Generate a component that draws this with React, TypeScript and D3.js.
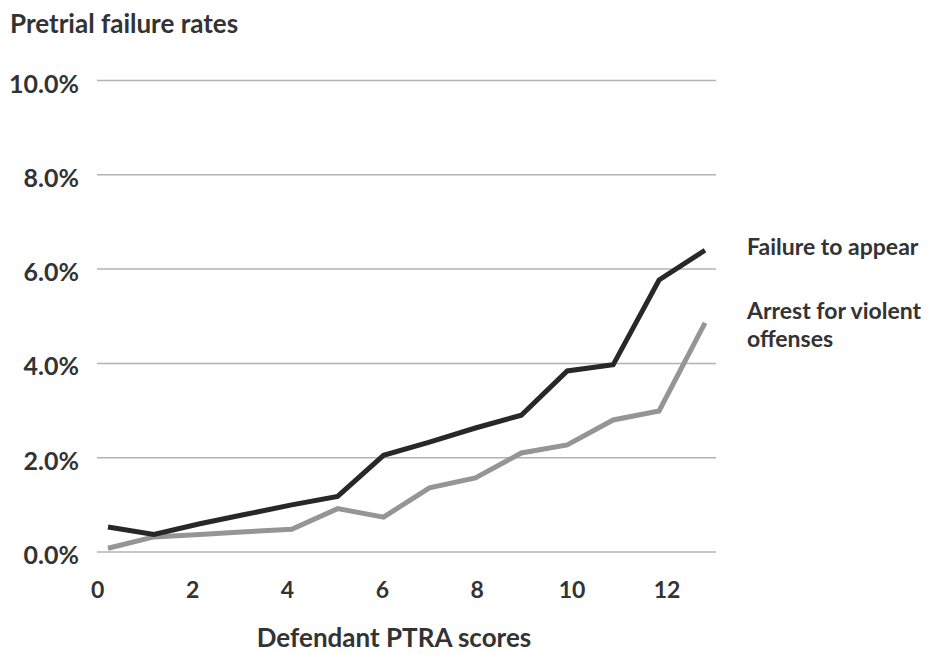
import * as d3 from "d3";

// PTRA score categories (one point per score)
const scores = [0, 1, 2, 3, 4, 5, 6, 7, 8, 9, 10, 11, 12, 13];
const failureToAppear = [0.53, 0.37, 0.6, 0.8, 1.0, 1.18, 2.05, 2.33, 2.63, 2.9, 3.84, 3.97, 5.77, 6.4];
const violentArrest = [0.08, 0.32, 0.37, 0.43, 0.48, 0.92, 0.74, 1.36, 1.57, 2.1, 2.27, 2.8, 2.99, 4.86];
const xTickValues = [0, 2, 4, 6, 8, 10, 12];
const yTickValues = [0, 2, 4, 6, 8, 10];

const W = 936;
const H = 654;
const FONT = "Lato, 'Open Sans', sans-serif";
const TEXT = "#333333";
const GRID = "#b3b3b3";
const DARK = "#282828";
const GRAY = "#959595";

export default function App() {
  const y = d3.scaleLinear().domain([0, 10]).range([552, 80.5]);
  const xData = d3.scalePoint<number>().domain(scores).range([108, 705]);
  const xTick = d3.scaleLinear().domain([0, 12]).range([97.7, 667]);

  const line = d3
    .line<number>()
    .x((_, i) => xData(scores[i])!)
    .y((d) => y(d));

  return (
    <svg
      width={W}
      height={H}
      style={{ position: "absolute", left: 0, top: 0, display: "block", background: "#fff" }}
      fontFamily={FONT}
      fontWeight={700}
      fill={TEXT}
    >
      <text x={10} y={33} fontSize={26}>
        Pretrial failure rates
      </text>

      {/* grid + y labels */}
      {yTickValues.map((t) => (
        <g key={t}>
          <line x1={97} x2={716} y1={y(t)} y2={y(t)} stroke={GRID} strokeWidth={1.5} />
          <text x={79} y={y(t) + 12} fontSize={25} textAnchor="end">
            {t.toFixed(1)}%
          </text>
        </g>
      ))}

      {/* x tick labels */}
      {xTickValues.map((t) => (
        <text key={t} x={xTick(t)} y={598} fontSize={23} textAnchor="middle">
          {t}
        </text>
      ))}

      <text x={394} y={647} fontSize={26} textAnchor="middle">
        Defendant PTRA scores
      </text>

      <path d={line(violentArrest)!} fill="none" stroke={GRAY} strokeWidth={5} strokeLinejoin="miter" />
      <path d={line(failureToAppear)!} fill="none" stroke={DARK} strokeWidth={5} strokeLinejoin="miter" />

      <text x={747} y={255} fontSize={23}>
        Failure to appear
      </text>
      <text x={747} y={319} fontSize={23}>
        Arrest for violent
      </text>
      <text x={747} y={347} fontSize={23}>
        offenses
      </text>
    </svg>
  );
}
